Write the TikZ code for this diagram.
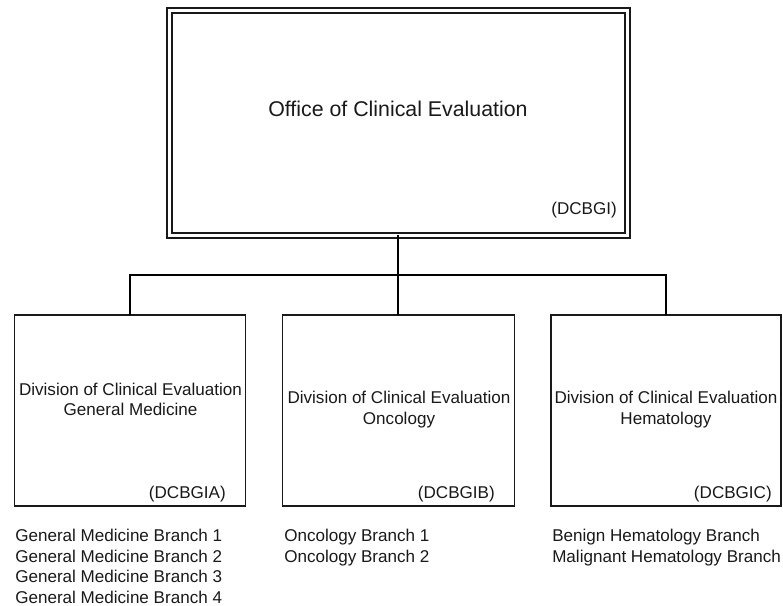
\documentclass[tikz,border=0pt]{standalone}
\usepackage{fontspec}
\setmainfont{Liberation Sans}
\begin{document}
\begin{tikzpicture}[x=0.75pt,y=-0.75pt,
  box/.style={draw=black!90, line width=1.4pt, inner sep=0pt, outer sep=0pt},
  topbox/.style={draw=black!90, line width=1.2pt, double=white, double distance=2.6pt, inner sep=0pt, outer sep=0pt,
    minimum width=343.5pt, minimum height=168.75pt},
  divbox/.style={box, minimum height=143.25pt},
  small/.style={font=\fontsize{12.8}{15.5}\selectfont, inner sep=0pt, text=black!90},
  big/.style={font=\fontsize{16}{19}\selectfont, inner sep=0pt, text=black!90},
  conn/.style={draw=black, line width=1.5pt}]
\useasboundingbox (0,0) rectangle (783,606);

% boxes
\node[topbox] (top) at (398.5,123) {};
\node[divbox, minimum width=231pt*0.75] (d1) at (130,410.5) {};
\node[divbox, minimum width=232pt*0.75] (d2) at (398.5,410.5) {};
\node[divbox, minimum width=230pt*0.75] (d3) at (666,410.5) {};

% connectors
\coordinate (j) at (398,275);
\draw[conn] (j |- top.south) -- (j);
\draw[conn] (j) -- (j |- d2.north);
\draw[conn] (d1.north) |- (j) -| (d3.north);

% texts
\node[big] (tt) at (398,109) {Office of Clinical Evaluation};
\node[small, anchor=east] (tc) at (617,210) {(DCBGI)};

\node[small, align=center] (t1) at (130.5,399.5) {Division of Clinical Evaluation\\General Medicine};
\node[small, align=center] (t2) at (399,409.5) {Division of Clinical Evaluation\\Oncology};
\node[small, align=center] (t3) at (666,409.5) {Division of Clinical Evaluation\\Hematology};

\node[small, anchor=east] (c1) at (226,494) {(DCBGIA)};
\node[small, anchor=east] (c2) at (495,494) {(DCBGIB)};
\node[small, anchor=east] (c3) at (772,494) {(DCBGIC)};

\node[small, anchor=north west, align=left] (b1) at (15,529) {General Medicine Branch 1\\General Medicine Branch 2\\General Medicine Branch 3\\General Medicine Branch 4};
\node[small, anchor=north west, align=left] (b2) at (284,529) {Oncology Branch 1\\Oncology Branch 2};
\node[small, anchor=north west, align=left] (b3) at (552,529) {Benign Hematology Branch\\Malignant Hematology Branch};
\end{tikzpicture}
\end{document}
